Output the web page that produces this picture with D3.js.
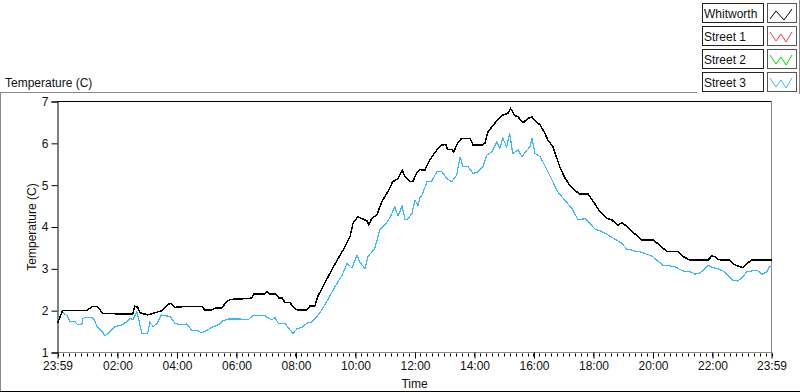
<!DOCTYPE html>
<html>
<head>
<meta charset="utf-8">
<script src="https://cdn.jsdelivr.net/npm/d3@7"></script>
<style>
  html, body { margin: 0; padding: 0; background: #fff; }
  svg { display: block; }
  text { font-family: "Liberation Sans", Arial, sans-serif; font-size: 12px; fill: #111; }
</style>
</head>
<body>
<svg id="chart" width="800" height="392"></svg>
<script>
// ---- data (minutes after 23:59 start, temperature in C) ----
const seriesNames = ["Whitworth", "Street 1", "Street 2", "Street 3"];
const seriesColors = ["#000000", "#ff3b3b", "#00dd00", "#3cb9f5"];

const whitworthTime = [0,10,19,59,70,80,92,152,156,162,166,182,211,217,227,237,257,291,297,311,318,331,340,348,368,392,396,418,422,428,439,447,453,459,469,477,483,503,509,519,525,539,553,566,580,590,596,606,614,624,628,634,644,654,666,676,687,695,701,711,717,725,731,741,747,755,765,775,783,787,795,799,807,815,832,838,856,862,868,882,896,908,914,922,929,939,949,957,967,973,983,989,999,1005,1013,1023,1033,1043,1053,1070,1080,1094,1108,1118,1130,1138,1148,1158,1170,1178,1201,1211,1219,1231,1251,1261,1275,1312,1320,1326,1332,1340,1356,1362,1376,1382,1386,1392,1400,1440];
const whitworthTemp = [1.70,2.00,2.00,2.00,2.10,2.10,1.93,1.92,2.11,2.08,1.95,1.90,2.00,2.08,2.18,2.08,2.10,2.10,2.02,2.02,2.06,2.06,2.20,2.27,2.28,2.30,2.40,2.40,2.46,2.40,2.40,2.30,2.30,2.19,2.19,2.07,2.02,2.02,2.11,2.11,2.34,2.66,2.97,3.25,3.53,3.77,4.09,4.25,4.20,4.15,4.05,4.21,4.29,4.60,4.84,5.08,5.16,5.36,5.20,5.08,5.10,5.30,5.37,5.36,5.52,5.68,5.84,5.96,5.97,5.85,5.85,5.80,6.00,6.12,6.12,5.96,5.96,6.00,6.27,6.48,6.67,6.71,6.83,6.67,6.63,6.49,6.60,6.63,6.49,6.45,6.24,6.08,5.92,5.72,5.44,5.18,5.00,4.88,4.79,4.79,4.62,4.37,4.21,4.17,4.04,4.10,4.02,3.89,3.79,3.69,3.69,3.60,3.51,3.41,3.41,3.30,3.21,3.21,3.31,3.29,3.23,3.21,3.21,3.12,3.05,3.03,3.08,3.14,3.21,3.21];

const street3Time = [0,10,19,25,35,41,49,51,55,70,74,80,90,96,106,116,130,140,146,152,160,164,170,182,186,193,201,209,217,227,237,247,261,271,281,291,301,311,324,334,344,368,384,394,418,424,432,439,445,459,469,475,483,493,503,513,523,533,545,560,574,584,594,604,609,620,626,640,650,660,670,680,687,695,701,707,715,721,727,731,735,745,755,765,775,785,795,805,812,818,828,838,848,858,866,876,886,892,898,906,912,918,929,937,947,953,957,963,973,979,989,999,1009,1023,1037,1050,1064,1074,1084,1098,1110,1124,1138,1148,1158,1168,1174,1183,1198,1208,1221,1231,1245,1261,1279,1285,1295,1301,1312,1322,1332,1342,1352,1362,1372,1382,1390,1400,1412,1420,1430,1436,1440];
const street3Temp = [1.78,1.96,1.88,1.74,1.74,1.66,1.66,1.80,1.84,1.84,1.78,1.62,1.50,1.40,1.50,1.62,1.66,1.74,1.82,1.78,1.98,1.78,1.46,1.46,1.72,1.62,1.70,1.90,1.88,1.86,1.70,1.66,1.68,1.53,1.53,1.47,1.53,1.60,1.66,1.76,1.80,1.80,1.78,1.88,1.88,1.83,1.78,1.83,1.70,1.69,1.54,1.45,1.57,1.60,1.70,1.73,1.86,2.02,2.26,2.58,2.85,3.13,3.02,3.33,3.17,3.01,3.29,3.49,3.93,4.05,4.21,4.48,4.27,4.50,4.17,4.20,4.33,4.64,4.52,4.70,4.76,5.08,5.10,5.32,5.32,5.16,5.08,5.24,5.68,5.44,5.44,5.28,5.32,5.44,5.72,5.80,6.04,5.88,6.12,5.92,6.24,5.76,5.84,5.68,5.84,5.92,6.12,5.76,5.68,5.56,5.32,5.08,4.84,4.64,4.45,4.17,4.20,4.08,3.95,3.89,3.81,3.71,3.61,3.47,3.45,3.41,3.41,3.37,3.31,3.21,3.09,3.08,3.05,2.95,2.92,2.87,2.90,2.95,3.08,3.03,3.00,2.95,2.85,2.73,2.71,2.80,2.93,2.95,2.96,2.87,2.92,3.05,3.07];

const xTickValues = [0,121,241,361,481,601,721,841,961,1081,1201,1321,1440];
const xTickLabels = ["23:59","02:00","04:00","06:00","08:00","10:00","12:00","14:00","16:00","18:00","20:00","22:00","23:59"];
const yTickValues = [1,2,3,4,5,6,7];

// ---- layout ----
const svg = d3.select("#chart");
const L = 57.5, R = 771.5, T = 101.5, B = 352.5;
const x = d3.scaleLinear().domain([0, 1440]).range([L, R]);
const y = d3.scaleLinear().domain([1, 7]).range([B, T]);

// outer panel borders
svg.append("line").attr("x1", 0).attr("x2", 697).attr("y1", 92.5).attr("y2", 92.5).attr("stroke", "#8a8a8a");
svg.append("line").attr("x1", 0.5).attr("x2", 0.5).attr("y1", 92).attr("y2", 392).attr("stroke", "#8a8a8a");
svg.append("line").attr("x1", 0).attr("x2", 800).attr("y1", 391.5).attr("y2", 391.5).attr("stroke", "#000");
svg.append("line").attr("x1", 799.5).attr("x2", 799.5).attr("y1", 0).attr("y2", 94).attr("stroke", "#8a8a8a");

// chart title
svg.append("text").attr("x", 5).attr("y", 87).text("Temperature (C)");

// plot frame
svg.append("line").attr("x1", L).attr("x2", R).attr("y1", T).attr("y2", T).attr("stroke", "#000");
svg.append("line").attr("x1", R).attr("x2", R).attr("y1", T).attr("y2", B).attr("stroke", "#8a8a8a");
svg.append("line").attr("x1", L).attr("x2", R).attr("y1", B).attr("y2", B).attr("stroke", "#8a8a8a");

// y axis
const yAxis = d3.axisLeft(y).tickValues(yTickValues).tickFormat(d3.format("d")).tickSize(6).tickPadding(3);
const gy = svg.append("g").attr("transform", `translate(${L},0)`).call(yAxis);
gy.select(".domain").attr("stroke", "#000");
gy.selectAll(".tick line").attr("stroke", "#000");
gy.selectAll(".tick text").attr("font-family", "Liberation Sans, Arial, sans-serif").attr("font-size", 12).attr("fill", "#111");

// x axis minor ticks
const minorTicks = d3.range(0, 1440.1, 12);
svg.append("g").selectAll("line").data(minorTicks).join("line")
  .attr("x1", d => Math.round(x(d)) + 0.5).attr("x2", d => Math.round(x(d)) + 0.5)
  .attr("y1", B + 1).attr("y2", B + 4).attr("stroke", "#000");

// x axis major
const xAxis = d3.axisBottom(x).tickValues(xTickValues)
  .tickFormat((d, i) => xTickLabels[i]).tickSize(6).tickPadding(3);
const gx = svg.append("g").attr("transform", `translate(0,${B})`).call(xAxis);
gx.select(".domain").remove();
gx.selectAll(".tick line").attr("stroke", "#000");
gx.selectAll(".tick text").attr("font-family", "Liberation Sans, Arial, sans-serif").attr("font-size", 12).attr("fill", "#111");

// axis titles
svg.append("text").attr("x", x(720)).attr("y", 388).attr("text-anchor", "middle").text("Time");
svg.append("text").attr("transform", `translate(36,${(T + B) / 2}) rotate(-90)`)
  .attr("text-anchor", "middle").text("Temperature (C)");

// lines
const line = d3.line().x(d => x(d[0])).y(d => y(d[1]));
const s3 = street3Time.map((t, i) => [t, street3Temp[i]]);
const wh = whitworthTime.map((t, i) => [t, whitworthTemp[i]]);
svg.append("path").datum(s3).attr("d", line).attr("fill", "none")
  .attr("stroke", seriesColors[3]).attr("stroke-width", 1.2).attr("shape-rendering", "crispEdges");
svg.append("path").datum(wh).attr("d", line).attr("fill", "none")
  .attr("stroke", seriesColors[0]).attr("stroke-width", 1.5).attr("shape-rendering", "crispEdges");

// legend
const lg = svg.append("g");
seriesNames.forEach((name, i) => {
  const top = 3 + i * 23;
  lg.append("rect").attr("x", 702.5).attr("y", top + 0.5).attr("width", 61).attr("height", 19)
    .attr("fill", "#fff").attr("stroke", "#222");
  lg.append("text").attr("x", 704).attr("y", top + 15).text(name);
  lg.append("rect").attr("x", 767.5).attr("y", top + 0.5).attr("width", 29).attr("height", 19)
    .attr("fill", "#fff").attr("stroke", "#555");
  const pts = i === 0
    ? [[770, top + 16], [776, top + 8], [784, top + 17], [792, top + 6]]
    : [[770, top + 6], [776, top + 15], [781, top + 8], [786, top + 16], [792, top + 6]];
  lg.append("path").attr("d", d3.line()(pts)).attr("fill", "none")
    .attr("stroke", seriesColors[i]).attr("stroke-width", 1);
});
</script>
</body>
</html>
